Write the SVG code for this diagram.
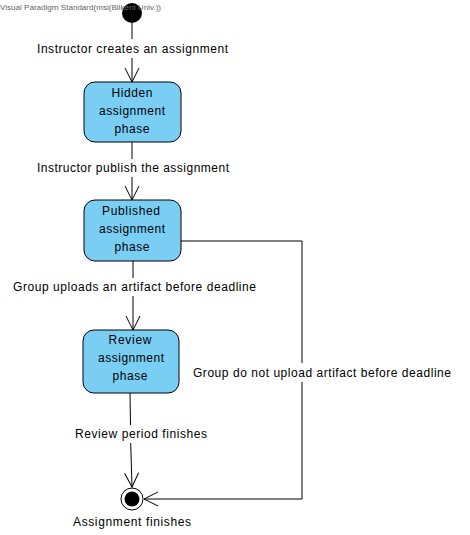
<svg xmlns="http://www.w3.org/2000/svg" width="470" height="535" viewBox="0 0 470 535">
<style>
.node rect{fill:#7acef4;stroke:#000;stroke-width:1}
text{font-family:"Liberation Sans",Arial,sans-serif;font-size:12px;fill:#000}
.nt{text-anchor:middle}
.ln{stroke:#000;stroke-width:1;fill:none}
.wm{font-size:8px;fill:#666}
</style>
<defs>
<marker id="arr" viewBox="0 0 16 16" refX="15" refY="8" markerWidth="16" markerHeight="16" markerUnits="userSpaceOnUse" orient="auto">
<path d="M1,1 L15,8 L1,15" fill="none" stroke="#000" stroke-width="1"/>
</marker>
</defs>
<rect width="470" height="535" fill="#fff"/>
<g id="start"><circle cx="132" cy="13" r="10" fill="#000"/></g>
<text class="wm" x="0" y="10" textLength="161" lengthAdjust="spacingAndGlyphs">Visual Paradigm Standard(msi(Bilkent Univ.))</text>
<g id="connectors">
<line class="ln" x1="132" y1="23" x2="132" y2="39"/>
<line class="ln" x1="132" y1="58" x2="132" y2="82" marker-end="url(#arr)"/>
<line class="ln" x1="132" y1="142" x2="132" y2="159"/>
<line class="ln" x1="132" y1="177" x2="132" y2="200" marker-end="url(#arr)"/>
<line class="ln" x1="133" y1="261" x2="133" y2="278"/>
<line class="ln" x1="133" y1="296" x2="133" y2="330" marker-end="url(#arr)"/>
<path class="ln" d="M181,241 H302 V363"/>
<path class="ln" d="M302,382 V499 H144" marker-end="url(#arr)"/>
<line class="ln" x1="130" y1="393" x2="130.5" y2="425"/>
<line class="ln" x1="130.7" y1="443" x2="132" y2="487" marker-end="url(#arr)"/>
<text x="37" y="53" textLength="191" lengthAdjust="spacing">Instructor creates an assignment</text>
<text x="37" y="172" textLength="192" lengthAdjust="spacing">Instructor publish the assignment</text>
<text x="13" y="291" textLength="243" lengthAdjust="spacing">Group uploads an artifact before deadline</text>
<text x="193" y="377" textLength="258" lengthAdjust="spacing">Group do not upload artifact before deadline</text>
<text x="75" y="438" textLength="132" lengthAdjust="spacing">Review period finishes</text>
</g>
<g id="hidden" class="node">
<rect x="84" y="82" width="97" height="60" rx="11"/>
<text class="nt" x="132" y="97" textLength="41" lengthAdjust="spacing">Hidden</text>
<text class="nt" x="132" y="115" textLength="66" lengthAdjust="spacing">assignment</text>
<text class="nt" x="132" y="133" textLength="35" lengthAdjust="spacing">phase</text>
</g>
<g id="published" class="node">
<rect x="84" y="200" width="97" height="61" rx="11"/>
<text class="nt" x="131" y="215" textLength="58" lengthAdjust="spacing">Published</text>
<text class="nt" x="132" y="233" textLength="66" lengthAdjust="spacing">assignment</text>
<text class="nt" x="132" y="251" textLength="35" lengthAdjust="spacing">phase</text>
</g>
<g id="review" class="node">
<rect x="83" y="330" width="96" height="63" rx="11"/>
<text class="nt" x="130" y="344" textLength="43" lengthAdjust="spacing">Review</text>
<text class="nt" x="131" y="362" textLength="66" lengthAdjust="spacing">assignment</text>
<text class="nt" x="130" y="380" textLength="35" lengthAdjust="spacing">phase</text>
</g>
<g id="final">
<circle cx="132" cy="499" r="11" fill="#fff" stroke="#000" stroke-width="1"/>
<circle cx="132" cy="499" r="7.5" fill="#000"/>
<text x="73" y="526" textLength="118" lengthAdjust="spacing">Assignment finishes</text>
</g>
</svg>
